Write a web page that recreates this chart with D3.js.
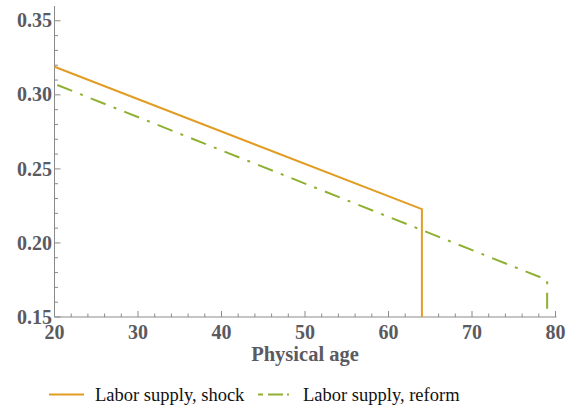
<!DOCTYPE html>
<html><head><meta charset="utf-8">
<script src="https://cdn.jsdelivr.net/npm/d3@7"></script>
<style>body{margin:0;background:#fff}</style>
</head><body>
<svg id="c" width="574" height="409"></svg>
<script>
// Data
const shockAges = [20, 64, 64];
const shockValues = [0.319, 0.2228, 0.15];
const reformAges = [20, 79, 79];
const reformValues = [0.3074, 0.1750, 0.15];
const xTicks = [20, 30, 40, 50, 60, 70, 80];
const yTicks = [0.15, 0.20, 0.25, 0.30, 0.35];
const seriesNames = ["Labor supply, shock", "Labor supply, reform"];
const xLabel = "Physical age";

const svg = d3.select("#c");
const x = d3.scaleLinear().domain([20, 80]).range([54.5, 555.5]);
const y = d3.scaleLinear().domain([0.15, 0.36]).range([317, 6]);
const axisColor = "#8a8a8a", labelColor = "#5a5a5f";
const tickFont = "'Liberation Serif', 'Times New Roman', serif";

// y axis
const yMinor = d3.range(0.15, 0.36, 0.01).map(v => +v.toFixed(2));
const yAx = svg.append("g");
yAx.append("line").attr("x1", x(20)).attr("x2", x(20)).attr("y1", y(0.36)).attr("y2", y(0.15))
  .attr("stroke", axisColor).attr("stroke-width", 1);
yAx.selectAll(".ym").data(yMinor).join("line")
  .attr("x1", x(20)).attr("x2", d => x(20) + (yTicks.some(t => Math.abs(t - d) < 1e-9) ? 6 : 3.5))
  .attr("y1", d => y(d)).attr("y2", d => y(d)).attr("stroke", axisColor);
yAx.selectAll(".yl").data(yTicks).join("text")
  .attr("x", 52).attr("y", d => y(d)).attr("dy", "0.33em")
  .attr("text-anchor", "end").attr("font-family", tickFont).attr("font-weight", "bold")
  .attr("font-size", 20).attr("fill", labelColor).text(d => d.toFixed(2));

// x axis
const xMinor = d3.range(20, 81, 2);
const xAx = svg.append("g");
xAx.append("line").attr("x1", x(20)).attr("x2", x(80) + 1).attr("y1", y(0.15)).attr("y2", y(0.15))
  .attr("stroke", axisColor).attr("stroke-width", 1);
xAx.selectAll(".xm").data(xMinor).join("line")
  .attr("x1", d => x(d)).attr("x2", d => x(d))
  .attr("y1", y(0.15)).attr("y2", d => y(0.15) - (d % 10 === 0 ? 6 : 3.5))
  .attr("stroke", axisColor);
xAx.selectAll(".xl").data(xTicks).join("text")
  .attr("x", d => x(d)).attr("y", 339)
  .attr("text-anchor", "middle").attr("font-family", tickFont).attr("font-weight", "bold")
  .attr("font-size", 20).attr("fill", labelColor).text(d => d);

svg.append("text").attr("x", 305).attr("y", 361).attr("text-anchor", "middle")
  .attr("font-family", tickFont).attr("font-weight", "bold").attr("font-size", 20.5)
  .attr("fill", labelColor).text(xLabel);

// lines
const line = d3.line().x(d => x(d[0])).y(d => y(d[1]));
const shock = shockAges.map((a, i) => [a, shockValues[i]]);
const reform = reformAges.map((a, i) => [a, reformValues[i]]);
const orange = "#e19c24", green = "#8fb032";
const dash = "16,8.5,3,8.5";
svg.append("path").attr("d", line(shock)).attr("fill", "none").attr("stroke", orange)
  .attr("stroke-width", 2);
svg.append("path").attr("d", line(reform)).attr("fill", "none").attr("stroke", green)
  .attr("stroke-width", 2).attr("stroke-dasharray", dash).attr("stroke-dashoffset", -3);

// legend
const lg = svg.append("g");
lg.append("line").attr("x1", 49).attr("x2", 84).attr("y1", 394.5).attr("y2", 394.5)
  .attr("stroke", orange).attr("stroke-width", 2);
lg.append("text").attr("x", 95).attr("y", 400.5).attr("font-family", tickFont)
  .attr("font-size", 18.5).attr("fill", "#111").text(seriesNames[0]);
lg.append("line").attr("x1", 258).attr("x2", 295).attr("y1", 394.5).attr("y2", 394.5)
  .attr("stroke", green).attr("stroke-width", 2).attr("stroke-dasharray", "5,5,15,4,2,10");
lg.append("text").attr("x", 303).attr("y", 400.5).attr("font-family", tickFont)
  .attr("font-size", 18.5).attr("fill", "#111").text(seriesNames[1]);
</script>
</body></html>
